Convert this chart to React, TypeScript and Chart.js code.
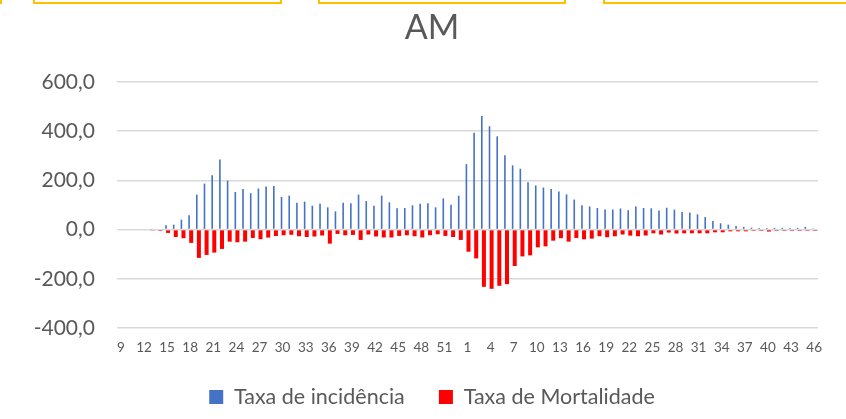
import React, { useEffect, useRef } from 'react';
import { Chart, registerables } from 'chart.js';

Chart.register(...registerables);

const categories = [
  '9', '10', '11', '12', '13', '14', '15', '16', '17', '18', '19', '20', '21', '22', '23', '24', '25', '26', '27', '28',
  '29', '30', '31', '32', '33', '34', '35', '36', '37', '38', '39', '40', '41', '42', '43', '44', '45', '46', '47', '48',
  '49', '50', '51', '52', '53',
  '1', '2', '3', '4', '5', '6', '7', '8', '9', '10', '11', '12', '13', '14', '15', '16', '17', '18', '19', '20',
  '21', '22', '23', '24', '25', '26', '27', '28', '29', '30', '31', '32', '33', '34', '35', '36', '37', '38', '39', '40',
  '41', '42', '43', '44', '45', '46',
];

const incidencia = [
  0, 0, 0, 0, 2, 3, 17.6, 20, 40.6, 58, 142, 187, 221, 284.6, 199, 153, 165, 148, 167, 175,
  177.5, 133, 138, 109, 113.5, 97, 105, 90.5, 74, 109, 107, 142, 116, 97, 138, 111, 86.5, 88, 98.6, 105,
  107, 90.5, 127, 101, 138,
  266, 394, 462, 420, 379, 302, 261, 247.5, 192, 179.5, 171, 164.6, 155, 143, 122, 99, 94, 88, 81.6, 81.6,
  85.7, 79, 94, 88, 86.5, 78, 89, 81, 71.6, 69, 62, 51, 35, 25.7, 20, 15, 11, 8, 7, 7,
  7, 7, 7, 7, 11, 4,
];

const mortalidade = [
  0, 0, 0, 0, -4, -5, -13.5, -30, -35, -54, -115, -103, -93.5, -78.6, -49, -51.5, -49, -34, -39, -32.5,
  -26, -23, -21, -27, -30, -28, -24, -57, -17.6, -23, -21.6, -42, -20, -28, -32, -32, -25.7, -23, -27, -32,
  -23, -19, -25.7, -30, -42,
  -90, -117, -232.6, -240.7, -228.5, -221.7, -148, -109, -104.7, -72, -68, -45, -35, -49, -34, -39.4, -36.7, -27, -31, -27,
  -20, -24.5, -27, -24, -15, -20, -12, -16, -15, -15, -15, -15, -11, -11, -7, -7, -7, -5, -5, -8,
  -5, -5, -5, -5, -5, -5,
];

const yTicks = [-400, -200, 0, 200, 400, 600];

const TEXT = '#595959';

const unclipY = {
  id: 'unclipY',
  afterLayout(chart: any) {
    const y = chart.scales.y;
    if (y) y.left = 0;
  },
};

export default function App() {
  const ref = useRef<HTMLCanvasElement | null>(null);

  useEffect(() => {
    if (!ref.current) return;
    Chart.defaults.font.family = 'Lato';
    const chart = new Chart(ref.current, {
      type: 'bar',
      data: {
        labels: categories,
        datasets: [
          {
            label: 'Taxa de incidência',
            data: incidencia,
            backgroundColor: '#4472C4',
            borderWidth: 0,
            categoryPercentage: 0.57,
            barPercentage: 0.73,
          },
          {
            label: 'Taxa de Mortalidade',
            data: mortalidade,
            backgroundColor: '#FF0000',
            borderWidth: 0,
            categoryPercentage: 0.52,
            barPercentage: 2.0,
          },
        ],
      },
      plugins: [unclipY],
      options: {
        responsive: false,
        animation: false,
        devicePixelRatio: 1,
        layout: { padding: { left: 46, right: 28, top: 0, bottom: 1.3 } },
        plugins: {
          title: {
            display: true,
            text: 'AM',
            color: TEXT,
            font: { family: 'Lato', size: 34, weight: 'normal', lineHeight: 1.2 },
            padding: { top: 8, bottom: 33.2 },
          },
          legend: {
            position: 'bottom',
            labels: {
              color: TEXT,
              font: { family: 'Lato', size: 21.5 },
              boxWidth: 14,
              boxHeight: 14,
              padding: 18,
              generateLabels: (c: any) => {
                const items = Chart.defaults.plugins.legend.labels.generateLabels(c);
                if (items[0]) items[0].text = items[0].text + '\u2003';
                return items;
              },
            },
          },
          tooltip: { enabled: false },
        },
        scales: {
          x: {
            grid: { display: false, drawTicks: false },
            border: { display: false },
            ticks: {
              autoSkip: false,
              maxRotation: 0,
              minRotation: 0,
              color: TEXT,
              font: { family: 'Lato', size: 13.5, lineHeight: 1.2 },
              padding: 12,
              callback: (_v: any, i: number) => (i % 3 === 0 ? categories[i] : ''),
            },
          },
          y: {
            min: yTicks[0],
            max: yTicks[yTicks.length - 1],
            afterFit: (s: any) => {
              s.width = 71;
            },
            afterBuildTicks: (s: any) => {
              s.ticks = yTicks.map((v) => ({ value: v }));
            },
            grid: { color: '#D9D9D9', lineWidth: 1.5, drawTicks: false },
            border: { display: false },
            ticks: {
              color: TEXT,
              font: { family: 'Lato', size: 21 },
              padding: 22,
              callback: (v: any) => Number(v).toFixed(1).replace('.', ','),
            },
          },
        },
      },
    });
    return () => chart.destroy();
  }, []);

  const box = (left: number, width: number) => (
    <div
      style={{
        position: 'absolute',
        left,
        top: -20,
        width,
        height: 24,
        boxSizing: 'border-box',
        border: '2px solid #FFC000',
      }}
    />
  );

  return (
    <div style={{ position: 'absolute', left: 0, top: 0, width: 846, height: 419, overflow: 'hidden', background: '#fff' }}>
      <canvas ref={ref} width={846} height={419} style={{ position: 'absolute', left: 0, top: 0 }} />
      {box(-100, 101.5)}
      {box(33, 249)}
      {box(318, 248)}
      {box(603, 260)}
    </div>
  );
}
